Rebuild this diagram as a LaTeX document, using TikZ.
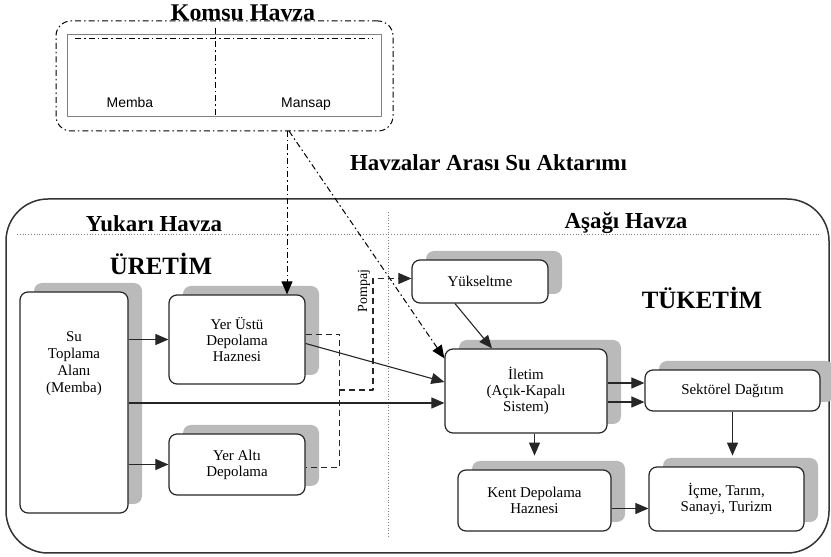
\documentclass[tikz,border=0pt]{standalone}
\usepackage{fontspec}
\setmainfont{Liberation Serif}
\setsansfont{Liberation Sans}
\usetikzlibrary{arrows.meta,shadows}
\tikzset{
  box/.style={draw=black!85,rounded corners=8bp,fill=white,line width=1.2bp,align=center,
    inner sep=0pt,font=\fontsize{15}{16}\selectfont,
    drop shadow={shadow xshift=14bp,shadow yshift=9bp,fill=black!27,opacity=1}},
  boxtext/.style={align=center,inner sep=0pt,font=\fontsize{15}{17}\selectfont},
  title/.style={anchor=base,inner sep=0pt,font=\fontsize{23}{26}\selectfont\bfseries},
  bigtitle/.style={anchor=base,inner sep=0pt,font=\fontsize{25}{28}\selectfont\bfseries},
  dashdotline/.style={dash pattern=on 6bp off 3bp on 1.5bp off 3bp,line width=1bp},
  dashline/.style={dash pattern=on 6bp off 4bp},
  conn/.style={black!85,line width=1.1bp},
}
\begin{document}
\begin{tikzpicture}[>={Triangle[length=13bp,width=11bp]},line join=bevel,]
\clip (0bp,0bp) rectangle (831bp,557bp);
%%
\node (node_komsu) at (224.5bp,481bp) [draw,dashdotline,rounded corners=15bp,minimum width=337bp,minimum height=110bp] {};
  \draw [gray,line width=0.8bp] (67bp,441bp) rectangle (381bp,523bp);
  \draw [dashdotline] (75bp,518bp) -- (373bp,518bp);
  \draw [dashdotline] (215bp,529bp) -- (215bp,439bp);
  \node (node_komsu_t) at (243bp,536.5bp) [title,font=\fontsize{24}{26}\selectfont\bfseries] {Komsu Havza};
  \node (node_memba) at (130bp,449bp) [anchor=base,inner sep=0pt,font=\sffamily\fontsize{14}{16}\selectfont] {Memba};
  \node (node_mansap) at (306bp,449bp) [anchor=base,inner sep=0pt,font=\sffamily\fontsize{14}{16}\selectfont] {Mansap};
  \node (node_aktarim) at (488.5bp,386bp) [title] {Havzalar Arası Su Aktarımı};
%
\draw [black!80,line width=1.5bp,rounded corners=42bp] (6bp,4bp) rectangle (829bp,358bp);
  \draw [gray,dotted,line width=0.8bp] (17bp,323bp) -- (820bp,323bp);
  \draw [gray,dotted,line width=0.8bp] (388bp,345bp) -- (388bp,20bp);
  \node (node_yukari) at (154bp,325bp) [title] {Yukarı Havza};
  \node (node_asagi) at (626bp,328bp) [title] {Aşağı Havza};
  \node (node_uretim) at (161bp,282bp) [bigtitle] {ÜRETİM};
  \node (node_tuketim) at (702bp,248bp) [bigtitle] {TÜKETİM};
%
\node (node_toplama) at (74bp,154.5bp) [box,minimum width=108bp,minimum height=221bp] {};
  \node (node_toplama_t) at (74bp,193bp) [boxtext] {Su\\Toplama\\Alanı\\(Memba)};
  \node (node_ustu) at (237bp,217.5bp) [box,minimum width=136bp,minimum height=89bp] {Yer Üstü\\Depolama\\Haznesi};
  \node (node_alti) at (237bp,92.5bp) [box,minimum width=136bp,minimum height=61bp] {Yer Altı\\Depolama};
  \node (node_yuks) at (480bp,275.5bp) [box,minimum width=136bp,minimum height=43bp] {Yükseltme};
  \node (node_iletim) at (526bp,166bp) [box,minimum width=162bp,minimum height=84bp] {İletim\\(Açık-Kapalı\\Sistem)};
  \node (node_sektor) at (732.5bp,166.5bp) [box,minimum width=175bp,minimum height=41bp] {Sektörel Dağıtım};
  \node (node_kent) at (534.5bp,56.5bp) [box,minimum width=153bp,minimum height=61bp] {Kent Depolama\\Haznesi};
  \node (node_icme) at (726.5bp,58bp) [box,minimum width=155bp,minimum height=64bp] {İçme, Tarım,\\Sanayi, Turizm};
  \node (node_pompaj) at (364bp,266bp) [rotate=90,inner sep=0pt,font=\fontsize{14}{16}\selectfont] {Pompaj};
%
\coordinate (komsu_out) at (287bp,426bp);
  \coordinate (komsu_out2) at (289bp,426bp);
  \coordinate (pump) at (339bp,167bp);
  \coordinate (iletim_in) at ([yshift=-12bp]node_iletim.west);
  \coordinate (iletim_o1) at ([yshift=8bp]node_iletim.east);
  \coordinate (iletim_o2) at ([yshift=-11bp]node_iletim.east);
  \coordinate (kent_out) at ([yshift=-8bp]node_kent.east);
  \draw [dashdotline,->] (komsu_out) -- (komsu_out |- node_ustu.north);
  \draw [dashdotline,->] (komsu_out2) -- ([yshift=-10bp]node_iletim.north west);
  \draw [conn,->] (node_toplama.east |- node_ustu.west) -- (node_ustu.west);
  \draw [conn,->] (node_toplama.east |- node_alti.west) -- (node_alti.west);
  \draw [conn,->] (node_toplama.east |- iletim_in) -- (iletim_in);
  \draw [conn,->] ([yshift=-4bp]node_ustu.east) -- ([yshift=9bp]node_iletim.west);
  \draw [conn,dashline] ([yshift=5bp]node_ustu.east) -- ++(34bp,0bp) |- ([yshift=-3bp]node_alti.east);
  \draw [conn,dashline,->] (pump) -- ++(34bp,0bp) |- ([yshift=3bp]node_yuks.west);
  \draw [conn,->] ([xshift=-25bp]node_yuks.south) -- ([xshift=-34bp]node_iletim.north);
  \draw [conn,->] (iletim_o1) -- (iletim_o1 -| node_sektor.west);
  \draw [conn,->] (iletim_o2) -- (iletim_o2 -| node_sektor.west);
  \draw [conn,->] (node_iletim.south -| node_kent.north) -- ++(0bp,-22bp);
  \draw [conn,->] (node_sektor.south) -- ++(0bp,-44bp);
  \draw [conn,->] (kent_out) -- (kent_out -| node_icme.west);
%
\end{tikzpicture}
\end{document}
